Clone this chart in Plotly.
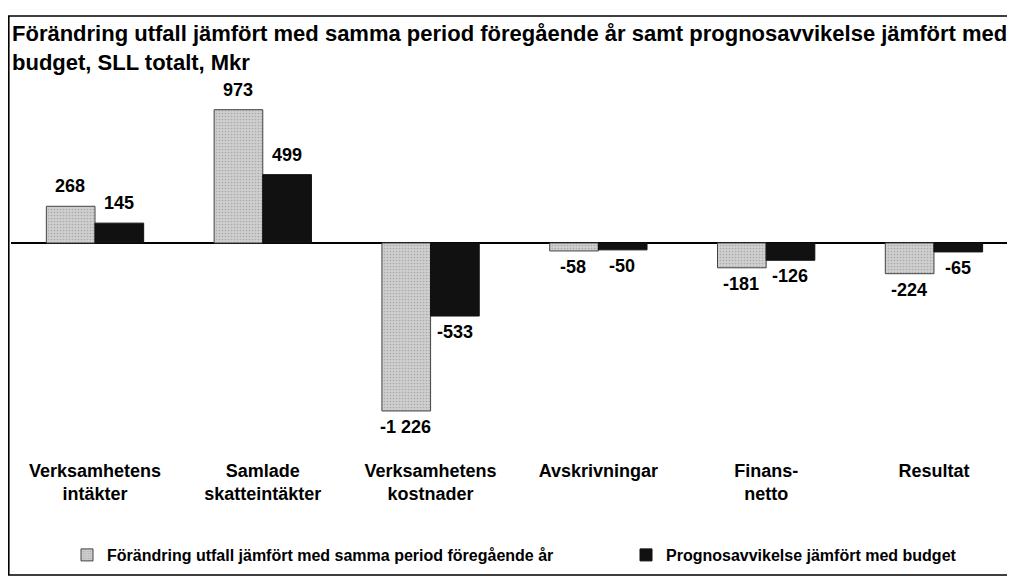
import plotly.graph_objects as go

categories = ["Verksamhetens<br>intäkter", "Samlade<br>skatteintäkter", "Verksamhetens<br>kostnader",
              "Avskrivningar", "Finans-<br>netto", "Resultat"]
series1_name = "Förändring utfall jämfört med samma period föregående år"
series2_name = "Prognosavvikelse jämfört med budget"
series1 = [268, 973, -1226, -58, -181, -224]
series2 = [145, 499, -533, -50, -126, -65]
title_lines = ["Förändring utfall jämfört med samma period föregående år samt prognosavvikelse jämfört med",
               "budget, SLL totalt, Mkr"]

FONT = "Arial, Liberation Sans, sans-serif"
OFF = 8  # page body margin
W, H = 1015 - OFF, 576 - OFF
ML, MR, MT, MB = 3, 0, 92, 121
PW, PH = W - ML - MR, H - MT - MB

def px_x(p):  # p in figure pixels
    return (p - ML) / PW

def px_y(p):
    return 1 - (p - MT) / PH

x_idx = list(range(len(categories)))

fig = go.Figure()
fig.add_trace(go.Bar(
    x=x_idx, y=series1, name=series1_name, legend="legend",
    marker=dict(color="#c0c0c0", line=dict(color="#444444", width=1),
                pattern=dict(shape=".", fgcolor="#858585", bgcolor="#cfcfcf", size=3, solidity=0.25)),
))
fig.add_trace(go.Bar(
    x=x_idx, y=series2, name=series2_name, legend="legend2",
    marker=dict(color="#111111", line=dict(color="#111111", width=1)),
))

def fmt(v):
    return f"{v:,}".replace(",", " ")

annotations = []
for i in x_idx:
    for vals, shift in ((series1, -25), (series2, 24)):
        v = vals[i]
        annotations.append(dict(
            x=i, y=v, xref="x", yref="y", xshift=shift,
            yshift=8 if v >= 0 else -4,
            yanchor="bottom" if v >= 0 else "top",
            text=fmt(v), showarrow=False,
            font=dict(family=FONT, size=18, color="black", weight="bold"),
        ))

for txt, yc in zip(title_lines, (25, 55)):
    annotations.append(dict(x=px_x(2), y=px_y(yc), xref="paper", yref="paper", xanchor="left", yanchor="middle",
                            text=txt, showarrow=False,
                            font=dict(family=FONT, size=22, color="black", weight="bold")))

legend_font = dict(family=FONT, size=16, color="black", weight="bold")
fig.update_layout(
    width=W, height=H,
    margin=dict(l=ML, r=MR, t=MT, b=MB),
    paper_bgcolor="white", plot_bgcolor="white",
    barmode="group", bargap=0.42, bargroupgap=0,
    annotations=annotations,
    showlegend=True,
    legend=dict(orientation="h", x=px_x(59), y=px_y(547), xanchor="left", yanchor="middle",
                font=legend_font, itemwidth=30, bgcolor="rgba(0,0,0,0)"),
    legend2=dict(orientation="h", x=px_x(618), y=px_y(547), xanchor="left", yanchor="middle",
                 font=legend_font, itemwidth=30, bgcolor="rgba(0,0,0,0)"),
    shapes=[dict(type="rect", xref="paper", yref="paper",
                 x0=px_x(0.8), x1=px_x(1002), y0=px_y(567), y1=px_y(8),
                 line=dict(color="black", width=1.6), fillcolor="rgba(0,0,0,0)", layer="below")],
)
fig.update_xaxes(range=[-0.5006, 5.483], tickmode="array", tickvals=x_idx, ticktext=categories,
                 showline=False, showgrid=False, zeroline=False, ticks="", ticklabelstandoff=3,
                 tickfont=dict(family=FONT, size=18, color="black", weight="bold"))
fig.update_yaxes(range=[-(447 - 235) / 0.137, (235 - 92) / 0.137], showticklabels=False,
                 showgrid=False, zeroline=True, zerolinecolor="black", zerolinewidth=2, showline=False)

fig.write_html("out.html")
